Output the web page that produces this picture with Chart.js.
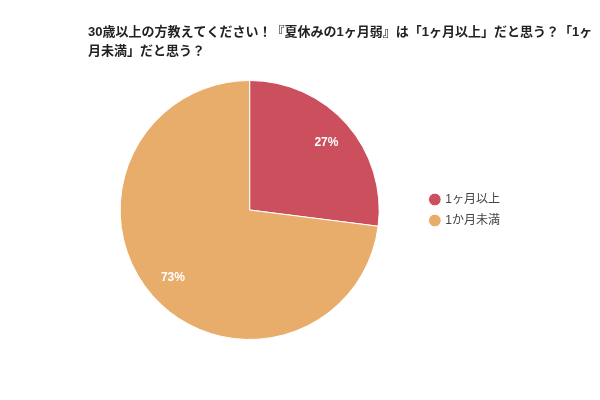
<!DOCTYPE html>
<html>
<head>
<meta charset="utf-8">
<script src="https://cdn.jsdelivr.net/npm/chart.js@4"></script>
<style>
  html, body { margin: 0; padding: 0; background: #fff; }
  #wrap { width: 600px; height: 400px; }
</style>
</head>
<body>
<div id="wrap"><canvas id="pieChart" width="600" height="400"></canvas></div>
<script>
// ---------------- Data ----------------
const titleLines = ["30歳以上の方教えてください！『夏休みの1ヶ月弱』は「1ヶ月以上」だと思う？「1ヶ", "月未満」だと思う？"];
const labels = ["1ヶ月以上", "1か月未満"];
const values = [27, 73];
const colors = ["#cc4f5e", "#e8ad6a"];

const fontFamily = "'Liberation Sans', 'Noto Sans CJK JP', sans-serif";

// ---------------- Title (drawn by hand so chart.js doesn't squeeze it) ----------------
const wideTitle = {
    id: "wideTitle",
    afterDraw(chart) {
        const ctx = chart.ctx;
        ctx.save();
        ctx.fillStyle = "#222";
        ctx.font = "bold 13px " + fontFamily;
        ctx.textAlign = "left";
        ctx.textBaseline = "middle";
        titleLines.forEach((line, i) => ctx.fillText(line, 88, 32 + i * 19));
        ctx.restore();
    }
};

// ---------------- Percent labels ----------------
const pctLabels = {
    id: "pctLabels",
    afterDatasetsDraw(chart) {
        const ctx = chart.ctx;
        const meta = chart.getDatasetMeta(0);
        const total = values.reduce((a, b) => a + b, 0);
        ctx.save();
        ctx.fillStyle = "#fff";
        ctx.font = "bold 12px " + fontFamily;
        ctx.textAlign = "center";
        ctx.textBaseline = "middle";
        meta.data.forEach((arc, i) => {
            const mid = (arc.startAngle + arc.endAngle) / 2;
            const r = arc.outerRadius * 0.79;
            const x = arc.x + Math.cos(mid) * r;
            const y = arc.y + Math.sin(mid) * r;
            ctx.fillText(Math.round(values[i] / total * 100) + "%", x, y);
        });
        ctx.restore();
    }
};

// legend sits a little further right of the pie than chart.js puts it
const legendNudge = {
    id: "legendNudge",
    afterLayout(chart) {
        chart.legend.left += 10;
        chart.legend.right += 10;
    }
};

// ---------------- Chart ----------------
new Chart(document.getElementById("pieChart").getContext("2d"), {
    type: "pie",
    data: {
        labels: labels,
        datasets: [{
            data: values,
            backgroundColor: colors,
            borderColor: "#fff",
            borderWidth: 1
        }]
    },
    options: {
        responsive: false,
        animation: false,
        layout: { padding: { left: 88, right: 100, top: 80, bottom: 60 } },
        plugins: {
            title: { display: false },
            legend: {
                position: "right",
                fullSize: false,
                labels: {
                    usePointStyle: true,
                    pointStyle: "circle",
                    boxWidth: 9,
                    boxHeight: 9,
                    color: "#444",
                    font: { family: fontFamily, size: 12 },
                    padding: 9
                }
            },
            tooltip: { enabled: false }
        }
    },
    plugins: [pctLabels, legendNudge, wideTitle]
});
</script>
</body>
</html>
